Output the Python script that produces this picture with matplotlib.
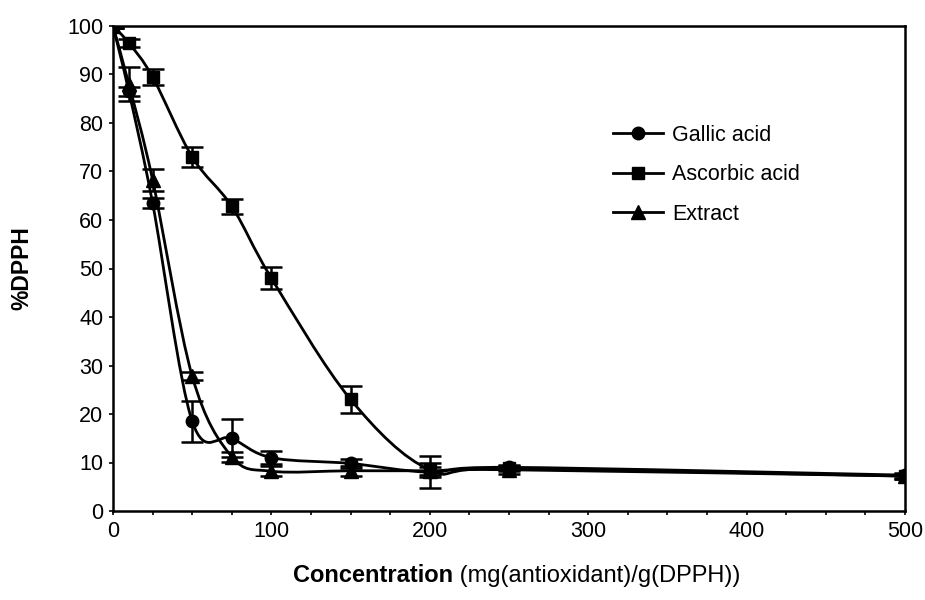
import numpy as np
import matplotlib.pyplot as plt
from matplotlib.path import Path
from matplotlib.patches import PathPatch
from matplotlib.lines import Line2D
from matplotlib.ticker import MultipleLocator

plt.rcParams['font.family'] = ['Liberation Sans', 'DejaVu Sans']

# concentration in mg antioxidant per g DPPH
conc = [0, 10, 25, 50, 75, 100, 150, 200, 250, 500]

gallic = [100, 86.5, 63.5, 18.5, 15.0, 11.0, 9.8, 8.0, 9.0, 7.4]
gallic_err = [0.5, 1.0, 1.0, 4.2, 3.9, 1.4, 1.0, 3.3, 0.5, 0.5]

ascorbic = [100, 96.5, 89.5, 73.0, 62.8, 48.0, 23.0, 8.5, 8.8, 7.2]
ascorbic_err = [0.5, 0.8, 1.7, 2.0, 1.5, 2.3, 2.8, 1.5, 0.5, 0.5]

extract = [100, 88.0, 68.3, 27.8, 11.2, 8.2, 8.3, 8.3, 8.5, 7.2]
extract_err = [0.5, 3.5, 2.3, 0.8, 1.0, 1.0, 1.0, 0.8, 0.8, 0.5]

series = [
    ("Gallic acid", gallic, gallic_err, "o", 9),
    ("Ascorbic acid", ascorbic, ascorbic_err, "s", 8.5),
    ("Extract", extract, extract_err, "^", 10),
]


def smooth_path(x, y):
    # smoothed line: cubic Bezier segments through every point
    pts = np.column_stack([x, y]).astype(float)
    n = len(pts)
    verts = [pts[0]]
    codes = [Path.MOVETO]
    for i in range(n - 1):
        p0 = pts[i - 1] if i > 0 else pts[i]
        p1 = pts[i]
        p2 = pts[i + 1]
        p3 = pts[i + 2] if i + 2 < n else pts[i + 1]
        c1 = p1 + (p2 - p0) / 6.0
        c2 = p2 - (p3 - p1) / 6.0
        verts += [c1, c2, p2]
        codes += [Path.CURVE4] * 3
    return Path(verts, codes)


fig = plt.figure(figsize=(9.25, 6.0), dpi=100)
ax = fig.add_axes([113 / 925, 89 / 600, 792 / 925, 485 / 600])

handles = []
for name, vals, err, mk, ms in series:
    ax.add_patch(PathPatch(smooth_path(conc, vals), facecolor="none",
                           edgecolor="black", lw=2.0, zorder=2))
    ax.errorbar(conc, vals, yerr=err, fmt="none", ecolor="black",
                elinewidth=1.8, capsize=8, capthick=1.8, zorder=3)
    ax.plot(conc, vals, linestyle="none", marker=mk, ms=ms,
            color="black", zorder=4)
    handles.append(Line2D([], [], color="black", lw=2.0, marker=mk, ms=ms))

ax.set_xlim(0, 500)
ax.set_ylim(0, 100)
ax.xaxis.set_major_locator(MultipleLocator(100))
ax.xaxis.set_minor_locator(MultipleLocator(25))
ax.yaxis.set_major_locator(MultipleLocator(10))
ax.tick_params(axis="both", which="both", direction="out", length=3,
               width=1.2, labelsize=15.5, pad=4)
for sp in ax.spines.values():
    sp.set_linewidth(1.8)

ax.set_ylabel("%DPPH", fontsize=16.5, fontweight="bold", labelpad=24)

# x label: bold word followed by the regular unit text
fig.text(0.49, 0.03, "Concentration", fontsize=17, fontweight="bold",
         ha="right", va="baseline")
fig.text(0.49, 0.03, " (mg(antioxidant)/g(DPPH))", fontsize=17,
         ha="left", va="baseline")

ax.legend(handles, [s[0] for s in series], frameon=False, fontsize=15.5,
          loc="upper left", bbox_to_anchor=(613 / 925, 1 - 125 / 600),
          bbox_transform=fig.transFigure, borderpad=0, borderaxespad=0,
          handlelength=2.3, handletextpad=0.45, labelspacing=0.85)

fig.savefig("out.png", dpi=100)
